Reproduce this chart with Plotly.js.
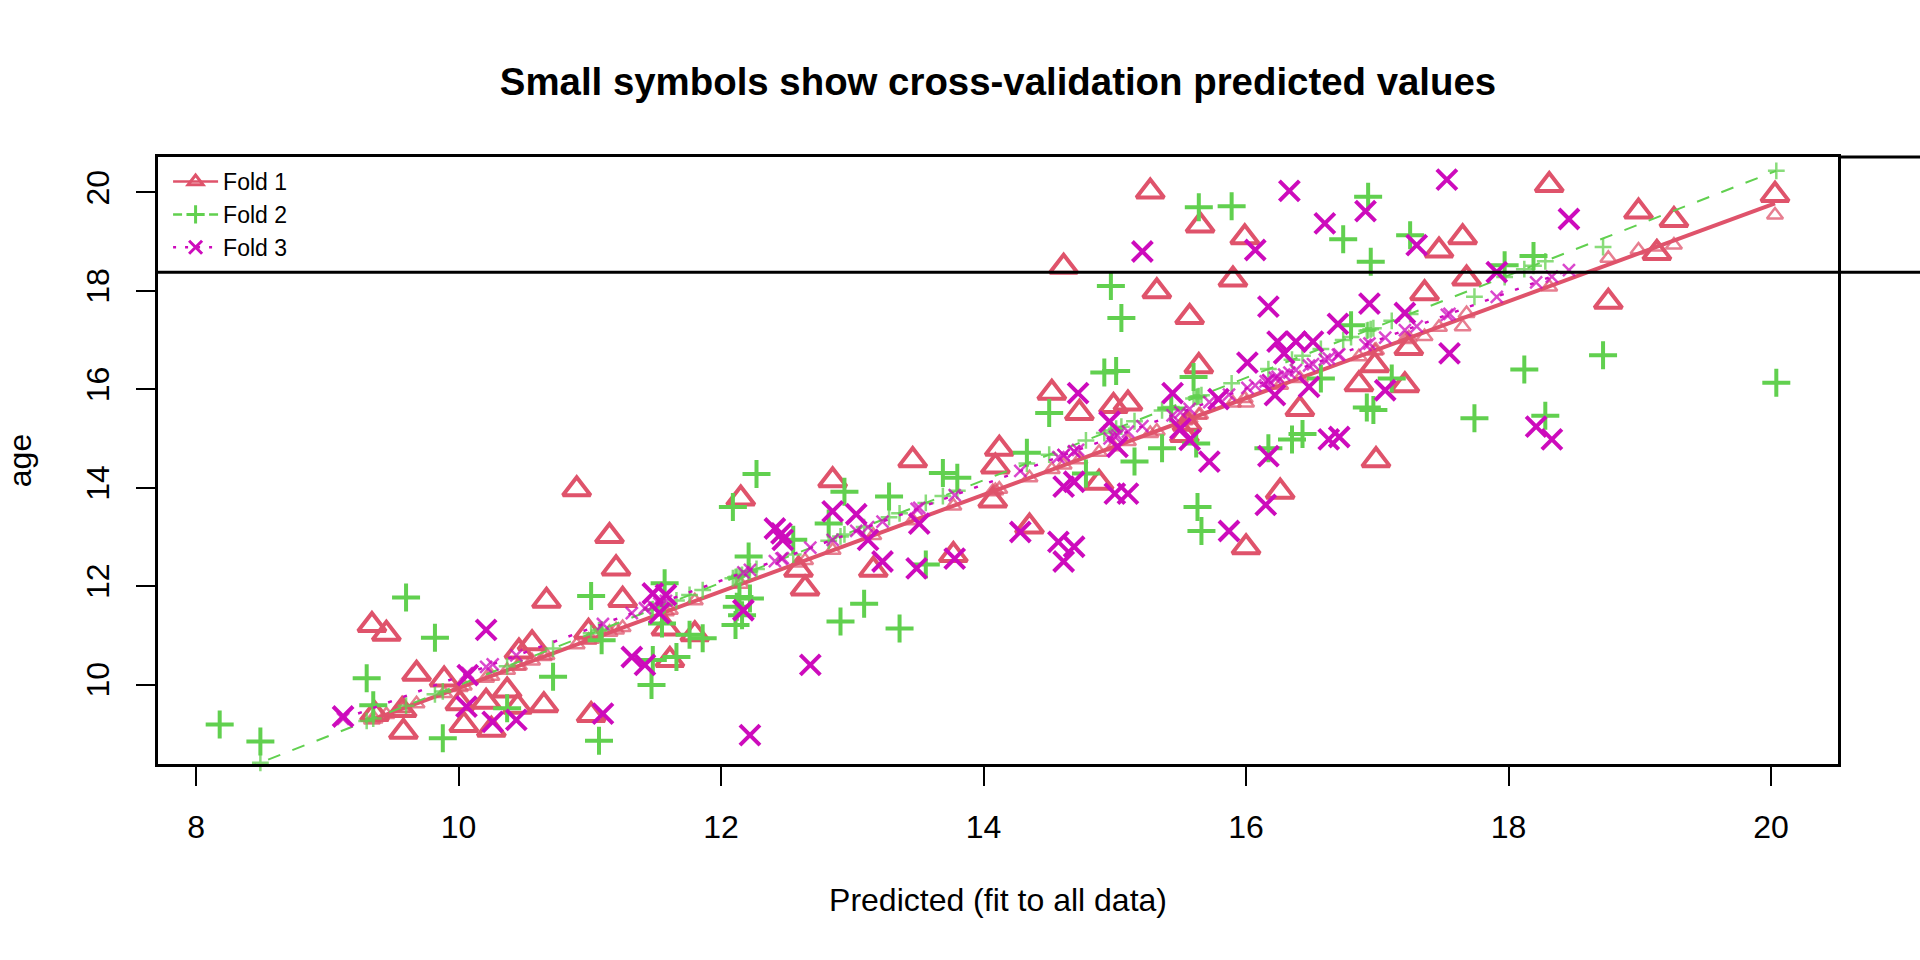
<!DOCTYPE html>
<html><head><meta charset="utf-8">
<script src="https://cdn.plot.ly/plotly-3.0.1.min.js"></script>
<style>html,body{margin:0;padding:0;background:#fff}#chart{width:1920px;height:960px}</style>
</head><body><div id="chart"></div>
<script>
// ---------- data ----------
const foldNames = ['Fold 1', 'Fold 2', 'Fold 3'];

const fold1X = [9.34,9.36,9.45,9.57,9.58,9.68,9.89,10.01,10.04,10.21,10.25,10.37,10.45,10.46,10.56,10.65,10.67,10.90,10.99,11.01,11.15,11.20,11.25,11.58,11.61,11.80,12.15,12.59,12.64,12.85,13.16,13.46,13.77,14.07,14.09,14.12,14.35,14.52,14.61,14.73,14.88,14.99,15.10,15.27,15.32,15.53,15.55,15.57,15.64,15.65,15.90,15.99,16.00,16.26,16.41,16.86,16.98,16.99,17.21,17.24,17.36,17.47,17.65,17.68,18.31,18.76,18.99,19.13,19.26,20.03];
const fold1Y = [11.21,9.40,11.03,9.48,9.04,10.22,10.10,9.62,9.18,9.65,9.08,9.88,9.55,10.67,10.84,9.58,11.70,13.97,11.07,9.38,13.02,12.36,11.72,11.14,10.50,11.02,13.78,12.33,11.95,14.15,12.33,14.56,12.63,13.74,14.43,14.79,13.21,15.93,18.49,15.52,14.10,15.66,15.71,20.02,17.99,15.07,15.30,17.47,16.47,19.33,18.23,19.09,12.79,13.92,15.60,16.10,16.49,14.56,16.08,16.84,17.95,18.82,19.09,18.25,20.15,17.78,19.61,18.77,19.44,19.95];
const fold1CV = [9.28,9.30,9.39,9.51,9.52,9.61,9.82,9.94,9.97,10.13,10.17,10.29,10.37,10.38,10.48,10.57,10.59,10.81,10.90,10.92,11.06,11.11,11.16,11.48,11.51,11.70,12.04,12.47,12.52,12.73,13.03,13.33,13.63,13.92,13.94,13.97,14.20,14.37,14.46,14.57,14.72,14.83,14.94,15.10,15.15,15.36,15.38,15.40,15.47,15.48,15.72,15.81,15.72,16.08,16.22,16.66,16.78,16.79,17.01,17.04,17.07,17.26,17.27,17.54,18.08,18.66,18.83,18.89,18.93,19.54];

const fold2X = [8.18,8.49,9.30,9.35,9.60,9.82,9.88,10.37,10.72,11.01,11.07,11.09,11.47,11.48,11.55,11.57,11.66,11.76,11.86,12.09,12.11,12.12,12.14,12.16,12.21,12.22,12.27,12.55,12.82,12.91,12.94,13.09,13.28,13.36,13.56,13.69,13.80,14.33,14.50,14.78,14.92,14.97,15.01,15.05,15.15,15.36,15.43,15.60,15.62,15.63,15.64,15.66,15.89,16.17,16.35,16.43,16.57,16.74,16.80,16.92,16.93,16.95,16.97,17.11,17.25,17.74,17.97,18.12,18.19,18.28,18.72,20.04];
const fold2Y = [9.19,8.84,10.13,9.58,11.77,10.95,8.91,9.52,10.16,11.80,8.86,10.90,9.99,10.50,11.24,12.06,10.56,11.01,10.94,13.61,11.21,11.58,11.78,11.41,12.60,11.75,14.28,12.94,13.27,11.28,13.92,11.64,13.82,11.14,12.44,14.30,14.20,14.71,15.52,14.29,16.34,18.10,16.37,17.45,14.53,14.80,15.61,16.25,14.90,13.61,19.70,13.12,19.72,14.80,14.98,15.09,16.22,19.05,17.30,15.63,19.91,18.59,15.58,16.22,19.13,15.41,18.52,16.40,18.71,15.46,16.69,16.13];
const fold2CV = [8.09,8.41,9.26,9.31,9.57,9.80,9.86,10.37,10.73,11.04,11.10,11.12,11.52,11.53,11.60,11.62,11.71,11.82,11.92,12.16,12.18,12.19,12.21,12.23,12.29,12.30,12.35,12.64,12.92,13.01,13.05,13.20,13.40,13.48,13.69,13.83,13.94,14.49,14.67,14.96,15.11,15.16,15.20,15.24,15.35,15.57,15.64,15.81,15.84,15.85,15.86,15.88,16.12,16.41,16.60,16.68,16.82,17.00,17.06,17.19,17.20,17.22,17.24,17.39,17.53,17.88,18.28,18.44,18.51,18.60,18.89,20.44];

const fold3X = [9.12,10.06,10.07,10.21,10.26,10.44,11.10,11.32,11.42,11.48,11.53,11.58,12.17,12.22,12.41,12.46,12.47,12.68,12.85,13.03,13.12,13.23,13.49,13.51,13.78,14.28,14.57,14.61,14.61,14.69,14.69,14.72,14.96,15.00,15.02,15.10,15.21,15.44,15.50,15.57,15.72,15.79,15.87,16.01,16.07,16.15,16.17,16.17,16.22,16.24,16.29,16.33,16.38,16.48,16.51,16.60,16.63,16.70,16.71,16.91,16.94,17.06,17.21,17.30,17.53,17.55,17.91,18.21,18.33,18.46];
const fold3Y = [9.35,9.55,10.19,11.11,9.24,9.28,9.41,10.56,10.40,11.85,11.45,11.82,11.51,8.97,13.17,13.07,12.94,10.40,13.52,13.46,12.94,12.50,12.36,13.27,12.56,13.10,12.90,12.50,14.02,12.80,14.12,15.92,15.34,13.88,14.83,13.88,18.80,15.92,15.20,14.97,14.53,15.80,13.12,16.54,18.83,13.65,14.64,17.68,15.88,16.97,16.73,20.03,16.97,16.05,16.97,19.37,14.98,17.33,15.03,19.62,17.74,15.98,17.55,18.93,20.26,16.73,18.38,15.24,14.98,19.46];
const fold3CV = [9.30,10.22,10.23,10.36,10.41,10.59,11.23,11.45,11.55,11.60,11.65,11.70,12.28,12.33,12.51,12.56,12.57,12.78,12.94,13.12,13.20,13.31,13.57,13.59,13.85,14.34,14.62,14.66,14.66,14.74,14.74,14.77,15.00,15.04,15.06,15.14,15.25,15.47,15.53,15.60,15.74,15.81,15.89,16.03,16.08,16.16,16.18,16.18,16.23,16.25,16.30,16.34,16.39,16.48,16.51,16.60,16.63,16.70,16.71,16.90,16.93,17.05,17.20,17.28,17.51,17.53,17.88,18.17,18.29,18.42];

// fitted lines for each fold (end points)
const fold1LineX = [9.34, 20.03], fold1LineY = [9.28, 19.78];
const fold2LineX = [8.18, 20.04], fold2LineY = [8.09, 20.44];
const fold3LineX = [9.12, 18.46], fold3LineY = [9.30, 18.42];

const refLineY = 18.38;
const xTicks = [8, 10, 12, 14, 16, 18, 20];
const yTicks = [10, 12, 14, 16, 18, 20];

// ---------- styles ----------
const FONT = 'Liberation Sans, Arial, Helvetica, sans-serif';
const colors = ['#DF536B', '#61D04F', '#CD0BBC'];
const bigSym = ['triangle-up-open', 'cross-thin-open', 'x-thin-open'];
const bigSize = [24, 20, 20];
const smallSize = [14, 12, 12];
const dashes = ['solid', '13px,13px', '4px,12px'];
const legendDashes = ['solid', '9px,9px', '3px,9px'];
const lineW = [4, 2, 2.5];

const folds = [
  {x: fold1X, y: fold1Y, cv: fold1CV, lx: fold1LineX, ly: fold1LineY},
  {x: fold2X, y: fold2Y, cv: fold2CV, lx: fold2LineX, ly: fold2LineY},
  {x: fold3X, y: fold3Y, cv: fold3CV, lx: fold3LineX, ly: fold3LineY}
];

const traces = [];
folds.forEach((f, i) => {
  traces.push({
    type: 'scatter', mode: 'markers', x: f.x, y: f.y, showlegend: false, hoverinfo: 'x+y',
    marker: {symbol: bigSym[i], size: bigSize[i], color: colors[i], line: {color: colors[i], width: 4}}
  });
  traces.push({
    type: 'scatter', mode: 'markers', x: f.x, y: f.cv, showlegend: false, cliponaxis: false,
    marker: {symbol: bigSym[i], size: smallSize[i], color: colors[i], opacity: 0.75, line: {color: colors[i], width: 2.5}}
  });
  traces.push({
    type: 'scatter', mode: 'lines', x: f.lx, y: f.ly, showlegend: false, hoverinfo: 'skip',
    line: {color: colors[i], width: lineW[i], dash: dashes[i]}
  });
});
// legend entries (line + symbol)
foldNames.forEach((name, i) => {
  traces.push({
    type: 'scatter', mode: 'lines+markers', x: [null], y: [null], name: name,
    line: {color: colors[i], width: 2.5, dash: legendDashes[i]},
    marker: {symbol: bigSym[i], size: 13, color: colors[i], line: {color: colors[i], width: 3}}
  });
});

const axisCommon = {
  showgrid: false, zeroline: false, showline: true, mirror: true,
  linecolor: '#000', linewidth: 3, ticks: 'outside', ticklen: 19, tickwidth: 2, tickcolor: '#000',
  tickfont: {family: FONT, size: 32, color: '#000'}, automargin: false
};

const layout = {
  width: 1920, height: 960,
  paper_bgcolor: '#fff', plot_bgcolor: '#fff',
  margin: {l: 158, r: 82, t: 157, b: 196},
  font: {family: FONT, color: '#000'},
  title: {text: 'Small symbols show cross-validation predicted values',
          font: {family: FONT, size: 38.4, color: '#000', weight: 'bold'},
          x: 0.5, xref: 'paper', xanchor: 'center', y: 0.9146, yref: 'container', yanchor: 'middle'},
  xaxis: Object.assign({}, axisCommon, {
    range: [7.71, 20.51], tickmode: 'array', tickvals: xTicks, ticktext: xTicks.map(String),
    ticklabelstandoff: 14,
    title: {text: 'Predicted (fit to all data)', font: {family: FONT, size: 32, color: '#000'}, standoff: 45}
  }),
  yaxis: Object.assign({}, axisCommon, {
    range: [8.385, 20.72], tickmode: 'array', tickvals: yTicks, ticktext: yTicks.map(String),
    tickangle: -90, ticklabelstandoff: 14,
    title: {text: 'age', font: {family: FONT, size: 32, color: '#000'}, standoff: 40}
  }),
  showlegend: true,
  legend: {x: 0.006, xanchor: 'left', y: 0.995, yanchor: 'top', bgcolor: 'rgba(0,0,0,0)',
           borderwidth: 0, font: {family: FONT, size: 23, color: '#000'}, itemwidth: 45,
           tracegroupgap: 0},
  shapes: [
    {type: 'line', xref: 'paper', yref: 'y', x0: 0, x1: 1.05, y0: refLineY, y1: refLineY,
     line: {color: '#000', width: 3}},
    {type: 'line', xref: 'paper', yref: 'paper', x0: 1, x1: 1.05, y0: 1, y1: 1,
     line: {color: '#000', width: 3}}
  ]
};

Plotly.newPlot('chart', traces, layout, {displayModeBar: false, staticPlot: true});
</script>
</body></html>
